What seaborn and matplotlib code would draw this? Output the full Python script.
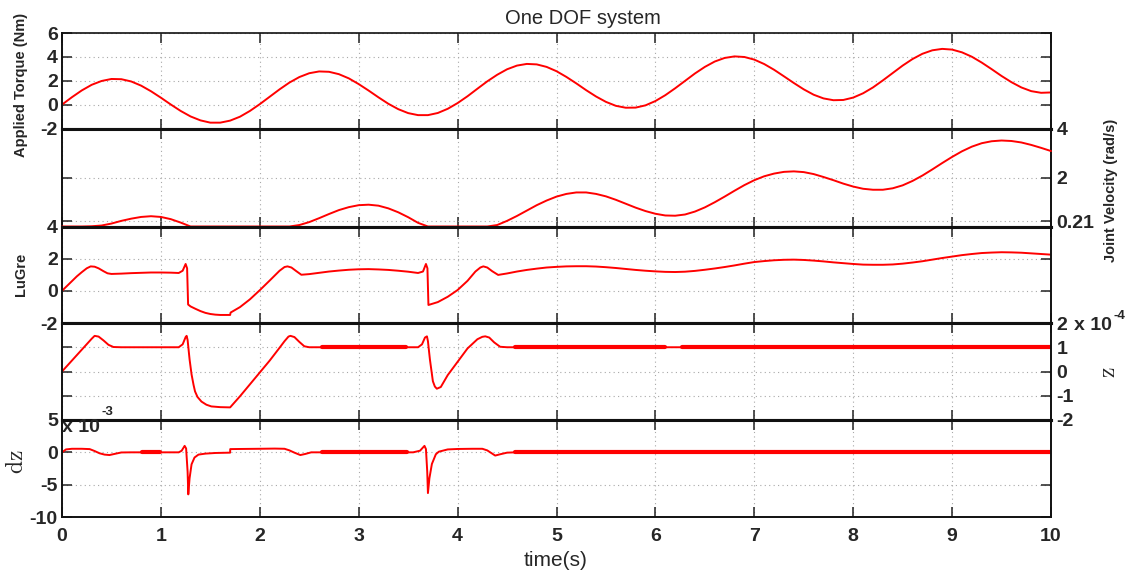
import numpy as np
import matplotlib
matplotlib.use("Agg")
import matplotlib.pyplot as plt
import seaborn as sns

# ---------------- data ----------------
t_torque = np.round(np.arange(0, 101) * 0.1, 1)
torque = [0.00, 0.62, 1.19, 1.66, 1.98, 2.15, 2.13, 1.94, 1.59, 1.12,
          0.58, 0.01, -0.53, -0.99, -1.32, -1.51, -1.51, -1.34, -1.01, -0.53,
          0.04, 0.66, 1.28, 1.85, 2.31, 2.63, 2.78, 2.75, 2.55, 2.20,
          1.72, 1.18, 0.61, 0.07, -0.38, -0.71, -0.88, -0.88, -0.70, -0.35,
          0.13, 0.70, 1.33, 1.95, 2.50, 2.96, 3.27, 3.41, 3.37, 3.16,
          2.80, 2.32, 1.78, 1.21, 0.68, 0.23, -0.10, -0.26, -0.25, -0.06,
          0.30, 0.79, 1.37, 1.99, 2.61, 3.16, 3.61, 3.91, 4.04, 3.99,
          3.77, 3.40, 2.92, 2.37, 1.81, 1.28, 0.83, 0.52, 0.37, 0.39,
          0.59, 0.95, 1.44, 2.03, 2.65, 3.27, 3.82, 4.26, 4.55, 4.67,
          4.61, 4.38, 4.01, 3.52, 2.97, 2.40, 1.88, 1.44, 1.13, 0.99,
          1.02]

t_vel = np.round(np.arange(0, 101) * 0.1, 1)
velocity = [0, 0, 0, 0.01, 0.04, 0.12, 0.23, 0.32, 0.39, 0.42,
            0.39, 0.30, 0.16, 0, 0, 0, 0, 0, 0, 0,
            0, 0, 0, 0, 0.06, 0.18, 0.34, 0.51, 0.67, 0.79,
            0.87, 0.89, 0.85, 0.74, 0.58, 0.38, 0.15, 0, 0, 0,
            0, 0, 0, 0, 0.06, 0.23, 0.43, 0.65, 0.87, 1.06,
            1.22, 1.33, 1.39, 1.39, 1.33, 1.23, 1.09, 0.93, 0.77, 0.63,
            0.52, 0.45, 0.44, 0.49, 0.61, 0.78, 0.99, 1.22, 1.46, 1.69,
            1.89, 2.05, 2.16, 2.23, 2.25, 2.22, 2.14, 2.02, 1.89, 1.75,
            1.63, 1.54, 1.50, 1.50, 1.56, 1.68, 1.86, 2.08, 2.33, 2.59,
            2.84, 3.07, 3.26, 3.40, 3.48, 3.51, 3.49, 3.43, 3.33, 3.21,
            3.08]

t_lugre = [0.0, 0.05, 0.1, 0.15, 0.2, 0.25, 0.29, 0.33, 0.37, 0.42,
           0.46, 0.5, 0.6, 0.7, 0.8, 0.9, 1.0, 1.1, 1.18, 1.22,
           1.25, 1.265, 1.275, 1.3, 1.35, 1.4, 1.45, 1.5, 1.55, 1.6,
           1.7, 1.705, 1.8, 1.9, 2.0, 2.1, 2.2, 2.25, 2.28, 2.32,
           2.37, 2.42, 2.5, 2.6, 2.7, 2.8, 2.9, 3.0, 3.1, 3.2,
           3.3, 3.4, 3.5, 3.6, 3.65, 3.68, 3.695, 3.705, 3.8, 3.9,
           4.0, 4.1, 4.18, 4.23, 4.26, 4.3, 4.35, 4.41, 4.5, 4.6,
           4.7, 4.8, 4.9, 5.0, 5.1, 5.2, 5.3, 5.4, 5.5, 5.6,
           5.7, 5.8, 5.9, 6.0, 6.1, 6.2, 6.3, 6.4, 6.5, 6.6,
           6.7, 6.8, 6.9, 7.0, 7.1, 7.2, 7.3, 7.4, 7.5, 7.6,
           7.7, 7.8, 7.9, 8.0, 8.1, 8.2, 8.3, 8.4, 8.5, 8.6,
           8.7, 8.8, 8.9, 9.0, 9.1, 9.2, 9.3, 9.4, 9.5, 9.6,
           9.7, 9.8, 9.9, 10.0]
lugre = [0.0, 0.30, 0.60, 0.90, 1.16, 1.40, 1.52, 1.50, 1.40, 1.22,
         1.09, 1.05, 1.07, 1.10, 1.12, 1.14, 1.14, 1.13, 1.11, 1.25,
         1.67, 1.40, -0.85, -0.97, -1.12, -1.26, -1.37, -1.44, -1.48, -1.50,
         -1.50, -1.35, -1.01, -0.53, 0.04, 0.64, 1.25, 1.48, 1.52, 1.45,
         1.22, 1.00, 1.04, 1.12, 1.20, 1.26, 1.31, 1.34, 1.35, 1.33,
         1.30, 1.25, 1.19, 1.11, 1.20, 1.67, 1.40, -0.88, -0.70, -0.37,
         0.05, 0.62, 1.20, 1.45, 1.52, 1.45, 1.22, 0.99, 1.08, 1.20,
         1.30, 1.38, 1.45, 1.49, 1.52, 1.53, 1.53, 1.51, 1.47, 1.42,
         1.36, 1.30, 1.25, 1.21, 1.18, 1.17, 1.19, 1.24, 1.31, 1.39,
         1.48, 1.58, 1.69, 1.79, 1.85, 1.90, 1.93, 1.94, 1.92, 1.88,
         1.83, 1.77, 1.72, 1.67, 1.63, 1.62, 1.62, 1.64, 1.69, 1.76,
         1.84, 1.94, 2.04, 2.13, 2.22, 2.29, 2.35, 2.38, 2.40, 2.39,
         2.37, 2.33, 2.29, 2.25]

t_z = [0.0, 0.1, 0.2, 0.3, 0.33, 0.37, 0.42, 0.47, 0.52, 0.6,
       1.18, 1.22, 1.25, 1.26, 1.27, 1.29, 1.31, 1.33, 1.345, 1.37,
       1.41, 1.46, 1.51, 1.6, 1.7, 1.8, 1.9, 2.0, 2.1, 2.2,
       2.25, 2.29, 2.31, 2.35, 2.4, 2.45, 2.5, 2.63, 3.48, 3.6,
       3.64, 3.67, 3.69, 3.7, 3.72, 3.75, 3.77, 3.79, 3.83, 3.9,
       4.0, 4.1, 4.2, 4.25, 4.28, 4.32, 4.37, 4.43, 4.5, 4.58,
       6.1, 6.27, 10.0]
z_e4 = [0.0, 0.45, 0.90, 1.35, 1.47, 1.44, 1.28, 1.10, 1.01, 1.0,
        1.0, 1.12, 1.42, 1.47, 1.30, 0.50, -0.12, -0.55, -0.82, -1.05,
        -1.24, -1.37, -1.44, -1.47, -1.48, -1.02, -0.53, -0.04, 0.45, 0.98,
        1.25, 1.44, 1.47, 1.42, 1.22, 1.04, 1.0, 1.0, 1.0, 1.0,
        1.12, 1.40, 1.45, 1.25, 0.50, -0.40, -0.62, -0.71, -0.64, -0.15,
        0.40, 0.95, 1.33, 1.43, 1.45, 1.40, 1.20, 1.02, 1.0, 1.0,
        1.0, 1.0, 1.0]

t_dz = [0.0, 0.04, 0.1, 0.2, 0.28, 0.33, 0.38, 0.43, 0.48, 0.53,
        0.6, 0.7, 0.81, 0.99, 1.18, 1.21, 1.24, 1.255, 1.27, 1.277,
        1.29, 1.31, 1.34, 1.38, 1.45, 1.55, 1.7, 1.701, 1.8, 2.0,
        2.15, 2.25, 2.3, 2.35, 2.41, 2.46, 2.52, 2.63, 3.49, 3.55,
        3.62, 3.665, 3.68, 3.693, 3.7, 3.715, 3.74, 3.78, 3.81, 3.9,
        4.0, 4.15, 4.25, 4.3, 4.34, 4.38, 4.43, 4.5, 4.58, 10.0]
dz_e3 = [0.0, 0.45, 0.55, 0.55, 0.50, 0.20, -0.15, -0.35, -0.42, -0.25,
         -0.02, 0.0, 0.0, 0.0, 0.0, 0.25, 1.0, 0.6, -3.0, -6.5,
         -4.0, -1.85, -0.8, -0.35, -0.2, -0.1, -0.05, 0.5, 0.52, 0.55,
         0.58, 0.55, 0.30, -0.05, -0.42, -0.25, 0.0, 0.0, 0.0, 0.0,
         0.25, 1.0, 0.5, -3.0, -6.3, -4.0, -1.8, -0.3, 0.1, 0.45,
         0.52, 0.55, 0.55, 0.3, -0.1, -0.5, -0.3, -0.05, 0.0, 0.0]

x_ticks = list(range(11))
torque_ticks = [-2, 0, 2, 4, 6]
vel_ticks = [0.21, 2, 4]
vel_ticklabels = ["0.21", "2", "4"]
lugre_ticks = [-2, 0, 2, 4]
z_ticks = [-2, -1, 0, 1, 2]
dz_ticks = [-10, -5, 0, 5]

# ---------------- style ----------------
RED = "#ff0000"
LW = 1.4
THICK_LW = 3.0
z_thick_spans = [(2.63, 3.48), (4.58, 6.10), (6.27, 10.0)]
dz_thick_spans = [(0.81, 0.99), (2.63, 3.49), (4.58, 10.0)]

sns.set_style("white")
plt.rcParams["font.family"] = ["Liberation Sans", "DejaVu Sans"]
plt.rcParams["mathtext.fontset"] = "cm"
plt.rcParams["axes.unicode_minus"] = False

W, H = 1136, 579
fig = plt.figure(figsize=(W / 100, H / 100), dpi=100)
left_px, right_px = 62, 1051
bounds = [33, 128.5, 226.5, 323, 420, 517]
axes = []
for i in range(5):
    top, bot = bounds[i], bounds[i + 1]
    ax = fig.add_axes([left_px / W, 1 - bot / H, (right_px - left_px) / W, (bot - top) / H])
    axes.append(ax)


def draw(ax, t, y, spans=None, **kw):
    t = np.asarray(t, dtype=float)
    y = np.asarray(y, dtype=float)
    assert len(t) == len(y)
    sns.lineplot(x=t, y=y, ax=ax, color=RED, linewidth=LW, estimator=None,
                 sort=False, legend=False, **kw)
    if spans:
        for a, b in spans:
            m = (t >= a - 1e-9) & (t <= b + 1e-9)
            sns.lineplot(x=t[m], y=y[m], ax=ax, color=RED, linewidth=THICK_LW,
                         estimator=None, sort=False, legend=False)


draw(axes[0], t_torque, torque)
draw(axes[1], t_vel, velocity, zorder=3, clip_on=False)
draw(axes[2], t_lugre, lugre)
draw(axes[3], t_z, z_e4, spans=z_thick_spans)
draw(axes[4], t_dz, dz_e3, spans=dz_thick_spans)

specs = [
    ((-2, 6), torque_ticks, [str(v) for v in torque_ticks], "left"),
    ((0, 4), vel_ticks, vel_ticklabels, "right"),
    ((-2, 4), lugre_ticks, [str(v) for v in lugre_ticks], "left"),
    ((-2, 2), z_ticks, [str(v) for v in z_ticks], "right"),
    ((-10, 5), dz_ticks, [str(v) for v in dz_ticks], "left"),
]

TICK_FS = 14
for i, (ax, (ylim, yt, ytl, side)) in enumerate(zip(axes, specs)):
    ax.set_xlim(0, 10)
    ax.set_ylim(*ylim)
    ax.set_xlabel("")
    ax.set_ylabel("")
    ax.set_xticks(x_ticks, labels=[str(v) for v in x_ticks], fontweight="bold", fontsize=TICK_FS)
    ax.set_yticks(yt, labels=ytl, fontweight="bold", fontsize=TICK_FS)
    ax.grid(True, linestyle=(0, (1, 3)), color="#a8a8a8", linewidth=0.8)
    ax.tick_params(axis="both", direction="in", length=7, width=1.1, color="#222222",
                   top=True, bottom=True, left=True, right=True)
    ax.tick_params(axis="x", pad=8, labelbottom=(i == 4), labeltop=False)
    if side == "left":
        ax.tick_params(axis="y", pad=3, labelleft=True, labelright=False)
    else:
        ax.tick_params(axis="y", pad=4, labelleft=False, labelright=True)
    for s in ("left", "right"):
        ax.spines[s].set_linewidth(1.4)
        ax.spines[s].set_color("#111111")
    ax.spines["top"].set_linewidth(1.2 if i == 0 else 2.2)
    ax.spines["bottom"].set_linewidth(1.4 if i == 4 else 2.2)
    ax.spines["top"].set_color("#111111")
    ax.spines["bottom"].set_color("#111111")
    ax.set_facecolor("white")


def ftext(xp, yp, s, **kw):
    fig.text(xp / W, 1 - yp / H, s, **kw)


ftext(583, 19, "One DOF system", ha="center", va="center", fontsize=14.5)
ftext(556, 561, "time(s)", ha="center", va="center", fontsize=15)
ftext(21, 85, "Applied Torque (Nm)", rotation=90, ha="center", va="center",
      fontsize=10.5, fontweight="bold")
ftext(21, 274, "LuGre", rotation=90, ha="center", va="center",
      fontsize=10.5, fontweight="bold")
ftext(1111, 190, "Joint Velocity (rad/s)", rotation=90, ha="center", va="center",
      fontsize=10.5, fontweight="bold")
ftext(1109, 372, r"$\mathrm{z}$", rotation=90, ha="center", va="center", fontsize=17)
ftext(17, 462, r"$\mathrm{dz}$", rotation=90, ha="center", va="center", fontsize=17)

# exponent annotations
ftext(1074, 326, "x 10", ha="left", va="center", fontsize=TICK_FS, fontweight="bold")
ftext(1113, 316, "-4", ha="left", va="center", fontsize=9.5, fontweight="bold")
ftext(62, 427, "x 10", ha="left", va="center", fontsize=TICK_FS, fontweight="bold")
ftext(102, 412, "-3", ha="left", va="center", fontsize=9.5, fontweight="bold")

fig.savefig("out.png", dpi=100)
